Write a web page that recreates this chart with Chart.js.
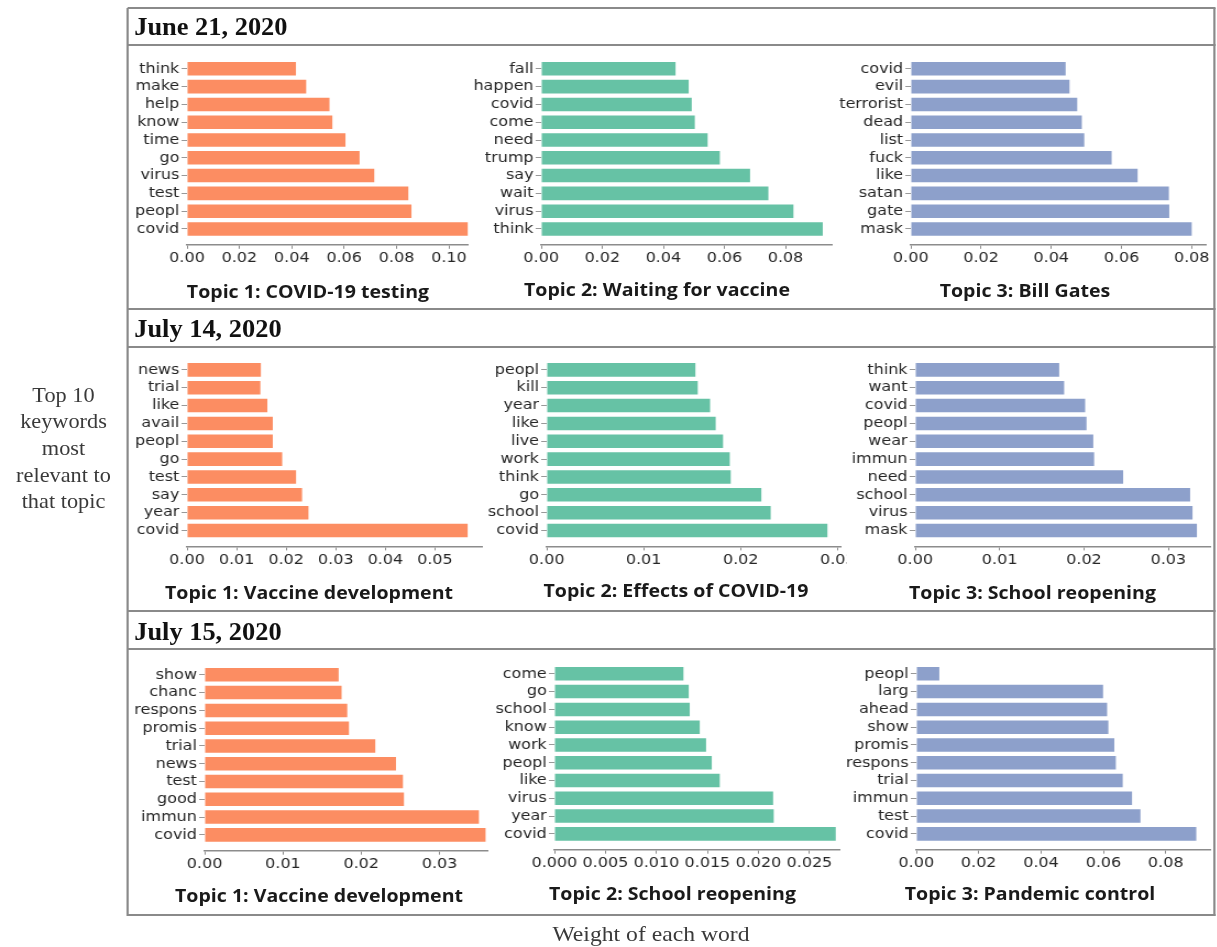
<!DOCTYPE html>
<html lang="en">
<head>
<meta charset="UTF-8">
<title>Top 10 keywords per topic</title>
<script src="https://cdn.jsdelivr.net/npm/chart.js"></script>
<style>
  html, body { margin: 0; padding: 0; background: #fff; overflow: hidden; }
  #fig { position: absolute; left: 0; top: 0; width: 1110px; height: 947px;
         transform-origin: 0 0; transform: scaleX(1.1); }
  #fig > * { position: absolute; }
  .line { background: #8a8a8a; }
  .date { font-family: "Liberation Serif", serif; font-weight: bold; font-size: 25px; color: #111;
          line-height: 30px; white-space: nowrap; transform-origin: 0 50%; transform: scaleX(0.96); }
  .topic { font-family: "Open Sans", sans-serif; font-weight: 700; font-size: 17.8px; color: #1a1a1a;
           white-space: nowrap; transform: translate(-50%, -50%); }
  .note { font-family: "Liberation Serif", serif; font-size: 20.3px; color: #3a3a3a;
          text-align: center; line-height: 26.7px; }
  .axis-note { font-size: 21.5px; }
</style>
</head>
<body>
<div id="fig"></div>
<script>
// keywords (top to bottom) and their weights, one pair per topic
const jun21Words1 = ['think', 'make', 'help', 'know', 'time', 'go', 'virus', 'test', 'peopl', 'covid'];
const jun21Weights1 = [0.0416, 0.0455, 0.0544, 0.0555, 0.0605, 0.0659, 0.0715, 0.0845, 0.0857, 0.1072];
const jun21Words2 = ['fall', 'happen', 'covid', 'come', 'need', 'trump', 'say', 'wait', 'virus', 'think'];
const jun21Weights2 = [0.0440, 0.0483, 0.0493, 0.0503, 0.0545, 0.0585, 0.0684, 0.0744, 0.0826, 0.0922];
const jun21Words3 = ['covid', 'evil', 'terrorist', 'dead', 'list', 'fuck', 'like', 'satan', 'gate', 'mask'];
const jun21Weights3 = [0.0441, 0.0452, 0.0474, 0.0487, 0.0494, 0.0572, 0.0646, 0.0735, 0.0736, 0.0800];

const jul14Words1 = ['news', 'trial', 'like', 'avail', 'peopl', 'go', 'test', 'say', 'year', 'covid'];
const jul14Weights1 = [0.0149, 0.0148, 0.0162, 0.0173, 0.0173, 0.0192, 0.0220, 0.0232, 0.0245, 0.0566];
const jul14Words2 = ['peopl', 'kill', 'year', 'like', 'live', 'work', 'think', 'go', 'school', 'covid'];
const jul14Weights2 = [0.01533, 0.01557, 0.01684, 0.01742, 0.01818, 0.01887, 0.01897, 0.02213, 0.02309, 0.02894];
const jul14Words3 = ['think', 'want', 'covid', 'peopl', 'wear', 'immun', 'need', 'school', 'virus', 'mask'];
const jul14Weights3 = [0.01706, 0.01765, 0.02014, 0.0203, 0.0211, 0.0212, 0.02464, 0.03258, 0.03286, 0.03338];

const jul15Words1 = ['show', 'chanc', 'respons', 'promis', 'trial', 'news', 'test', 'good', 'immun', 'covid'];
const jul15Weights1 = [0.01711, 0.01749, 0.01821, 0.01843, 0.02179, 0.02443, 0.02532, 0.02545, 0.03502, 0.03587];
const jul15Words2 = ['come', 'go', 'school', 'know', 'work', 'peopl', 'like', 'virus', 'year', 'covid'];
const jul15Weights2 = [0.01265, 0.01317, 0.01327, 0.01425, 0.01487, 0.01543, 0.01621, 0.02144, 0.0215, 0.02758];
const jul15Words3 = ['peopl', 'larg', 'ahead', 'show', 'promis', 'respons', 'trial', 'immun', 'test', 'covid'];
const jul15Weights3 = [0.00738, 0.0599, 0.0612, 0.0616, 0.0635, 0.0640, 0.0662, 0.0692, 0.0719, 0.0898];

// x tick values
const ticksTo010 = [0, 0.02, 0.04, 0.06, 0.08, 0.10];
const ticksTo008 = [0, 0.02, 0.04, 0.06, 0.08];
const ticksTo005 = [0, 0.01, 0.02, 0.03, 0.04, 0.05];
const ticksTo003 = [0, 0.01, 0.02, 0.03];
const ticksHalfCent = [0, 0.005, 0.010, 0.015, 0.020, 0.025];

const dates = ['June 21, 2020', 'July 14, 2020', 'July 15, 2020'];

const ORANGE = '#fc8d62', GREEN = '#66c2a5', BLUE = '#8da0cb';
const S = 1.1;         // horizontal stretch of the whole figure
const WY = 100;        // width reserved for the keyword axis
const HX = 34;         // height of the weight axis
const PAD_TOP = 8;

// layout of each small chart (x in page pixels, chart top / axis line y)
const panels = [
  { words: jun21Words1, weights: jun21Weights1, ticks: ticksTo010, dec: 2, xMax: 0.1074, color: ORANGE,
    zeroX: 186.7, axisEnd: 468, edge: 492, top: 52.5, axisY: 244.3,
    title: 'Topic 1: COVID-19 testing', tx: 308, ty: 291 },
  { words: jun21Words2, weights: jun21Weights2, ticks: ticksTo008, dec: 2, xMax: 0.0953, color: GREEN,
    zeroX: 541.7, axisEnd: 832.7, edge: 856, top: 52.5, axisY: 244.3,
    title: 'Topic 2: Waiting for vaccine', tx: 657, ty: 289 },
  { words: jun21Words3, weights: jun21Weights3, ticks: ticksTo008, dec: 2, xMax: 0.0841, color: BLUE,
    zeroX: 910.7, axisEnd: 1206, edge: 1230, top: 52.5, axisY: 244.3,
    title: 'Topic 3: Bill Gates', tx: 1025, ty: 290 },
  { words: jul14Words1, weights: jul14Weights1, ticks: ticksTo005, dec: 2, xMax: 0.0595, color: ORANGE,
    zeroX: 186.7, axisEnd: 481.7, edge: 505, top: 354.1, axisY: 546.5,
    title: 'Topic 1: Vaccine development', tx: 309, ty: 591.5 },
  { words: jul14Words2, weights: jul14Weights2, ticks: ticksTo003, dec: 2, xMax: 0.03034, color: GREEN,
    zeroX: 546.7, axisEnd: 841, edge: 846.5, top: 354.1, axisY: 546.5,
    title: 'Topic 2: Effects of COVID-19', tx: 676, ty: 590 },
  { words: jul14Words3, weights: jul14Weights3, ticks: ticksTo003, dec: 2, xMax: 0.03504, color: BLUE,
    zeroX: 915, axisEnd: 1210.7, edge: 1230, top: 354.1, axisY: 546.5,
    title: 'Topic 3: School reopening', tx: 1032.5, ty: 591.5 },
  { words: jul15Words1, weights: jul15Weights1, ticks: ticksTo003, dec: 2, xMax: 0.03613, color: ORANGE,
    zeroX: 205, axisEnd: 488, edge: 508, top: 659.2, axisY: 850.9,
    title: 'Topic 1: Vaccine development', tx: 319, ty: 895 },
  { words: jul15Words2, weights: jul15Weights2, ticks: ticksHalfCent, dec: 3, xMax: 0.02797, color: GREEN,
    zeroX: 554, axisEnd: 839.3, edge: 862, top: 657.5, axisY: 849.2,
    title: 'Topic 2: School reopening', tx: 672.5, ty: 893.3 },
  { words: jul15Words3, weights: jul15Weights3, ticks: ticksTo008, dec: 2, xMax: 0.0943, color: BLUE,
    zeroX: 916, axisEnd: 1210, edge: 1230, top: 657.5, axisY: 849.2,
    title: 'Topic 3: Pandemic control', tx: 1030, ty: 893.3 }
];

const fig = document.getElementById('fig');

function add(cls, x, y, w, h, text) {
  const el = document.createElement('div');
  if (cls) el.className = cls;
  el.style.left = (x / S) + 'px';
  el.style.top = y + 'px';
  if (w != null) el.style.width = (w / S) + 'px';
  if (h != null) el.style.height = h + 'px';
  if (text != null) el.innerHTML = text;
  fig.appendChild(el);
  return el;
}

// frame around the three date rows
[8, 45, 309, 347, 611, 649, 915].forEach(y => add('line', 128, y - 1, 1087, 2));
[128, 1214].forEach(x => add('line', x - 1, 8, 2, 908));

[27, 329, 632].forEach((y, i) => add('date', 134, y - 15, null, null, dates[i]));

add('note', 0, 381.5, 127, null, 'Top 10<br>keywords<br>most<br>relevant to<br>that topic');
add('note axis-note', 530, 921, 242, null, 'Weight of each word');

Chart.defaults.font.family = '"DejaVu Sans", sans-serif';
Chart.defaults.font.size = 14.5;
Chart.defaults.color = '#262626';

panels.forEach(p => {
  add('topic', p.tx, p.ty, null, null, p.title);

  const left = p.zeroX / S - WY;
  const width = Math.round(p.edge / S - left);
  const height = Math.round(p.axisY - p.top + PAD_TOP + HX);
  const cv = document.createElement('canvas');
  cv.width = width;
  cv.height = height;
  cv.style.left = left + 'px';
  cv.style.top = (p.top - PAD_TOP) + 'px';
  fig.appendChild(cv);

  const padR = width - (p.axisEnd / S - left);
  const padB = height - HX - (p.axisY - p.top + PAD_TOP);

  new Chart(cv, {
    type: 'bar',
    data: {
      datasets: [{
        data: p.weights.map((w, i) => ({ x: w, y: i })),
        backgroundColor: p.color,
        borderWidth: 0,
        barPercentage: 0.76,
        categoryPercentage: 1
      }]
    },
    options: {
      indexAxis: 'y',
      responsive: false,
      animation: false,
      layout: { padding: { top: PAD_TOP, right: padR, bottom: padB, left: 0 } },
      plugins: { legend: { display: false }, tooltip: { enabled: false } },
      scales: {
        x: {
          type: 'linear', position: 'bottom', min: 0, max: p.xMax,
          afterBuildTicks: s => { s.ticks = p.ticks.map(v => ({ value: v })); },
          afterFit: s => { s.height = HX; s.paddingLeft = 0; s.paddingRight = 0; },
          ticks: { callback: v => v.toFixed(p.dec), padding: 1, autoSkip: false, maxRotation: 0 },
          grid: { drawOnChartArea: false, drawTicks: true, tickLength: 4, color: '#8c8c8c' },
          border: { display: true, color: '#8c8c8c', width: 1.5 }
        },
        y: {
          type: 'linear', reverse: true, min: -0.89, max: 9.89, offset: false,
          afterBuildTicks: s => { s.ticks = p.words.map((_, i) => ({ value: i })); },
          afterFit: s => { s.width = WY; s.paddingTop = 0; s.paddingBottom = 0; },
          ticks: { callback: v => p.words[v], padding: 2, autoSkip: false },
          grid: { drawOnChartArea: false, drawTicks: true, tickLength: 5, color: '#999', offset: false },
          border: { display: false }
        }
      }
    }
  });
});
</script>
</body>
</html>
